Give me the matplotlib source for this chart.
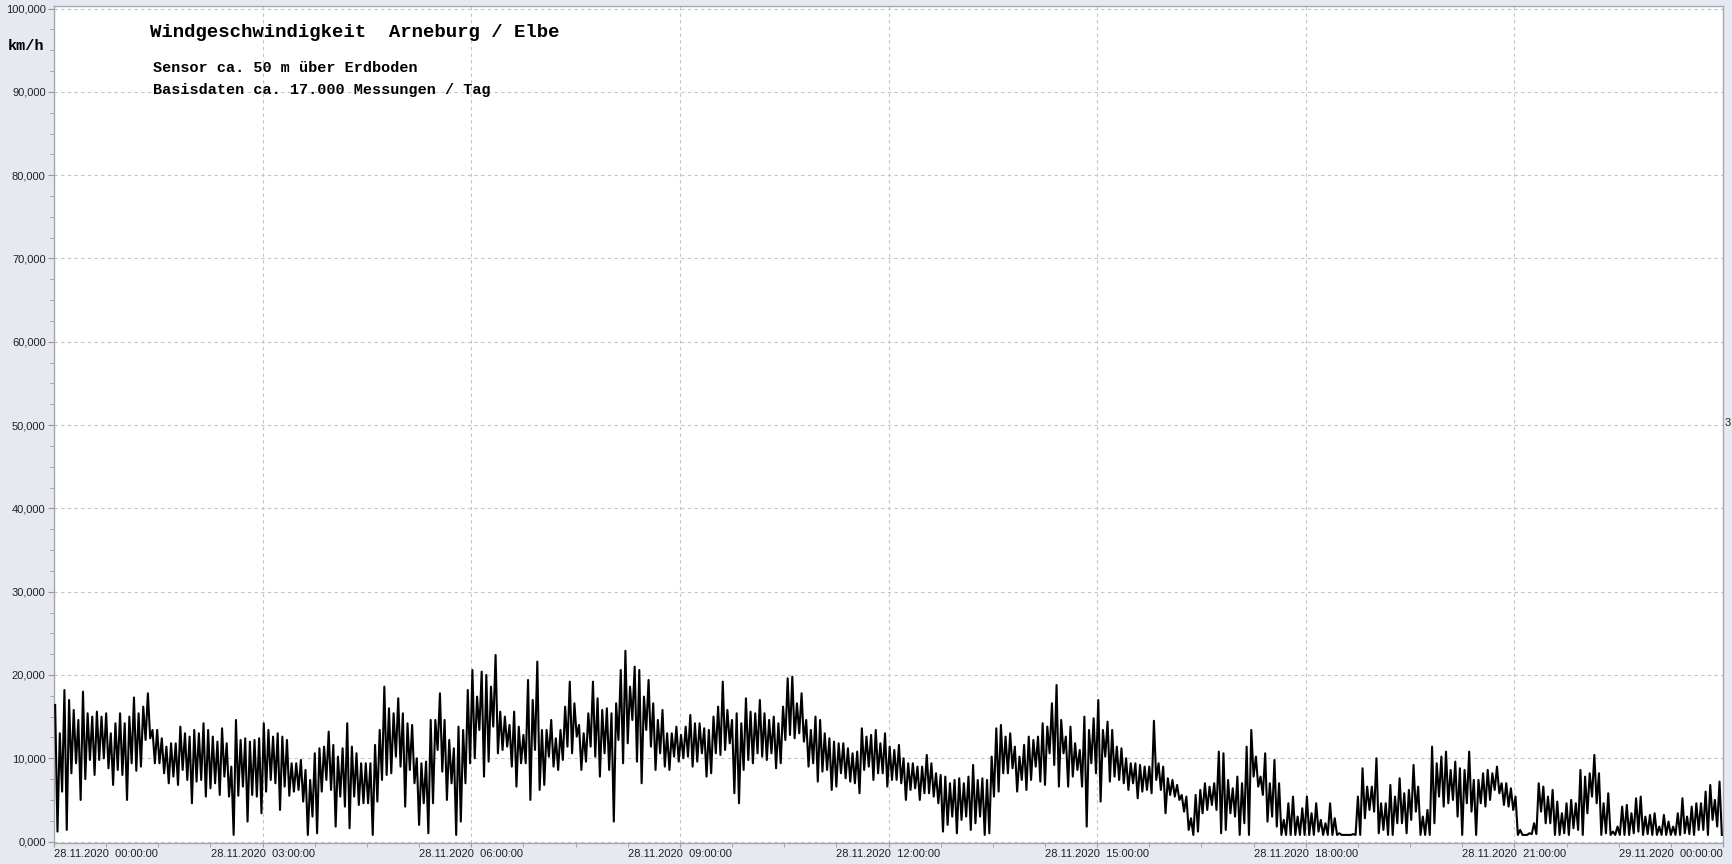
import matplotlib
matplotlib.use("Agg")
import matplotlib.pyplot as plt
import matplotlib.dates as mdates
from matplotlib.ticker import MultipleLocator, FuncFormatter
import pandas as pd

# Windgeschwindigkeit km/h, 6-Minuten-Abschnitte ab 28.11.2020 00:00
# je Abschnitt: Spitzenwert (hi) und Tiefstwert (lo)
hi = [
    16.4, 18.2, 17.0, 14.6, 18.0, 15.0, 15.6, 15.4, 13.0, 15.4,
    14.2, 17.3, 15.4, 17.8, 13.4, 12.4, 11.4, 11.8, 13.8, 12.6,
    13.4, 14.2, 13.4, 12.0, 13.6, 9.0, 14.6, 12.4, 12.0, 12.4,
    14.2, 12.6, 13.0, 12.2, 9.4, 9.8, 8.6, 10.6, 11.2, 13.2,
    11.6, 11.2, 14.2, 10.6, 9.4, 9.4, 11.6, 18.6, 16.0, 17.2,
    15.4, 14.0, 10.0, 9.6, 14.6, 17.8, 14.6, 11.2, 13.8, 18.2,
    20.6, 20.4, 20.0, 22.4, 15.6, 14.0, 15.6, 12.8, 19.4, 21.6,
    13.4, 14.6, 12.4, 16.2, 19.2, 14.0, 13.0, 19.2, 17.2, 16.0,
    15.4, 20.6, 22.9, 21.0, 20.6, 19.4, 16.6, 15.8, 13.0, 13.8,
    12.8, 15.2, 14.2, 13.6, 13.4, 16.2, 19.2, 14.6, 15.4, 17.2,
    15.6, 17.0, 15.4, 15.0, 14.2, 19.6, 19.8, 17.8, 14.6, 15.0,
    14.6, 12.4, 12.0, 11.8, 11.2, 10.8, 13.6, 12.8, 13.4, 13.0,
    11.4, 11.6, 10.0, 9.4, 9.0, 10.4, 9.4, 8.0, 7.8, 7.4,
    7.6, 7.8, 9.2, 7.6, 7.4, 13.6, 14.0, 13.0, 11.4, 11.6,
    12.6, 12.6, 14.2, 16.6, 18.8, 12.6, 13.8, 11.0, 15.0, 14.8,
    17.0, 14.4, 13.4, 11.2, 10.0, 9.4, 9.2, 9.0, 14.5, 9.0,
    7.6, 6.8, 5.6, 2.8, 5.6, 7.0, 6.6, 10.8, 10.6, 6.4,
    7.8, 11.4, 13.4, 7.8, 10.6, 9.8, 7.0, 4.6, 5.4, 4.0,
    5.4, 4.6, 2.6, 4.6, 2.8, 0.8, 0.8, 5.4, 8.8, 6.6,
    10.0, 4.6, 6.8, 7.6, 5.8, 9.2, 6.6, 3.8, 11.4, 10.2,
    10.8, 9.6, 8.8, 10.8, 7.4, 8.2, 8.6, 9.0, 7.0, 6.4,
    5.4, 0.8, 1.0, 7.0, 6.6, 6.2, 4.8, 4.6, 5.0, 8.6,
    7.8, 10.4, 8.2, 5.8, 1.2, 4.2, 4.4, 5.2, 5.4, 3.2,
    3.4, 3.2, 2.4, 3.4, 5.2, 4.2, 4.6, 6.0, 6.8, 7.2,
]
lo = [
    1.2, 1.4, 8.2, 5.0, 7.5, 8.0, 9.8, 8.8, 6.8, 8.0,
    5.0, 8.5, 9.0, 12.4, 9.4, 8.2, 7.0, 6.8, 8.6, 4.6,
    7.2, 5.4, 6.4, 5.6, 7.8, 0.8, 5.5, 2.4, 5.6, 3.4,
    6.0, 7.0, 3.8, 5.5, 6.0, 4.8, 0.8, 1.0, 6.0, 6.2,
    1.8, 4.2, 1.6, 4.4, 4.6, 0.8, 4.8, 8.0, 8.2, 9.0,
    4.2, 7.0, 2.0, 1.0, 4.6, 8.4, 5.0, 0.8, 2.4, 9.4,
    10.0, 7.8, 9.6, 10.6, 11.0, 9.0, 6.6, 9.4, 5.0, 6.2,
    6.8, 9.0, 8.6, 11.4, 10.6, 8.6, 9.6, 10.2, 7.8, 8.6,
    2.4, 9.4, 11.8, 9.6, 7.0, 11.4, 8.6, 9.0, 8.6, 9.6,
    10.0, 9.0, 9.6, 7.8, 8.2, 10.4, 11.0, 5.8, 4.6, 9.8,
    9.4, 10.2, 9.8, 8.8, 9.4, 12.8, 12.4, 12.0, 9.0, 7.2,
    8.4, 6.2, 6.6, 7.6, 7.2, 5.8, 8.6, 7.4, 8.2, 6.6,
    7.4, 7.0, 5.0, 6.4, 5.0, 5.8, 5.4, 1.2, 2.0, 1.0,
    2.6, 1.4, 2.2, 0.8, 1.0, 6.0, 8.2, 8.8, 6.0, 6.2,
    7.4, 7.2, 6.8, 9.2, 6.6, 6.6, 7.8, 6.6, 1.8, 8.2,
    4.8, 7.2, 7.8, 7.0, 6.2, 5.2, 6.0, 5.8, 7.4, 3.4,
    5.6, 5.0, 3.6, 0.8, 1.2, 3.8, 4.4, 1.0, 1.4, 3.0,
    0.8, 0.8, 7.8, 5.6, 2.4, 1.8, 0.8, 0.8, 0.8, 0.8,
    0.8, 1.2, 0.8, 0.8, 0.8, 0.8, 0.8, 0.8, 2.8, 3.6,
    1.0, 0.8, 0.8, 2.2, 1.0, 3.6, 0.8, 0.8, 2.2, 4.2,
    4.6, 3.0, 0.8, 3.6, 0.8, 4.2, 5.0, 5.8, 4.4, 3.8,
    0.8, 0.8, 0.9, 3.6, 2.2, 0.8, 0.8, 0.8, 1.6, 0.8,
    3.4, 4.6, 0.8, 0.8, 0.8, 0.8, 0.8, 1.2, 0.8, 0.8,
    0.8, 0.8, 0.8, 0.8, 1.0, 0.8, 1.4, 0.8, 2.6, 0.8,
]

# dichter Kernbereich je 12 Minuten (obere / untere Kante)
kern_oben = [
    13.0, 15.8, 15.4, 15.0, 14.2, 15.0, 16.2, 13.4, 11.8, 13.0,
    13.0, 12.6, 11.8, 12.2, 12.2, 13.4, 12.6, 9.4, 7.4, 11.4,
    10.2, 11.4, 9.4, 13.4, 15.4, 14.2, 9.4, 14.6, 12.2, 13.4,
    17.4, 18.6, 15.0, 13.8, 17.0, 13.4, 13.4, 16.6, 15.4, 15.8,
    16.6, 18.6, 17.4, 14.6, 13.0, 13.8, 14.2, 15.0, 15.8, 14.2,
    15.4, 14.6, 16.2, 16.6, 13.4, 13.0, 11.8, 10.6, 12.6, 11.8,
    11.0, 9.4, 9.0, 8.2, 7.0, 7.0, 7.4, 10.2, 12.6, 10.2,
    12.2, 13.8, 14.6, 11.8, 13.4, 13.4, 11.4, 9.4, 9.0, 9.4,
    7.4, 5.4, 6.2, 7.0, 7.4, 7.0, 10.2, 7.0, 2.6, 3.0,
    3.4, 2.2, 1.0, 0.9, 6.6, 4.6, 5.4, 6.2, 3.0, 9.4,
    8.6, 8.6, 7.4, 8.2, 7.0, 1.4, 2.2, 5.4, 3.4, 4.6,
    8.2, 4.6, 1.8, 3.4, 3.0, 1.8, 1.8, 3.0, 4.6, 5.0,
]
kern_unten = [
    6.0, 9.4, 9.8, 10.0, 8.6, 9.4, 12.2, 9.4, 7.8, 7.4,
    7.4, 7.0, 5.4, 6.6, 5.4, 7.4, 6.6, 6.2, 3.0, 7.4,
    5.4, 5.4, 4.6, 7.4, 10.2, 8.6, 4.6, 11.0, 7.0, 7.0,
    13.4, 13.8, 11.4, 9.4, 11.0, 10.2, 9.8, 12.6, 11.4, 10.6,
    12.2, 14.6, 13.4, 10.6, 10.2, 10.2, 10.6, 10.6, 11.8, 8.6,
    10.6, 10.6, 12.2, 13.0, 9.4, 8.6, 8.2, 7.0, 9.0, 8.2,
    7.4, 6.2, 5.8, 4.6, 3.0, 3.0, 3.0, 5.4, 8.2, 7.4,
    9.0, 10.6, 10.6, 8.6, 9.4, 10.2, 7.4, 7.0, 6.2, 6.2,
    5.4, 1.4, 3.4, 3.8, 3.4, 2.2, 6.6, 3.0, 0.8, 0.8,
    0.8, 0.8, 0.8, 0.8, 3.8, 1.4, 2.2, 2.6, 0.8, 5.4,
    5.0, 4.6, 4.6, 6.2, 4.2, 0.8, 0.9, 2.2, 1.0, 1.4,
    5.4, 1.0, 0.8, 1.0, 0.9, 0.8, 0.8, 0.9, 1.4, 1.8,
]

start = "2020-11-28 00:00"
end = "2020-11-29 00:00"

# je 12 Minuten: hi, lo, Kern oben, Kern unten, hi, lo -> 2-Minuten-Raster
werte = []
for j in range(len(kern_oben)):
    werte += [hi[2 * j], lo[2 * j], kern_oben[j], kern_unten[j],
              hi[2 * j + 1], lo[2 * j + 1]]
zeit = pd.date_range(pd.Timestamp(start) + pd.Timedelta(minutes=1),
                     periods=len(werte), freq="2min")

bg = "#e7e9f1"
fig = plt.figure(figsize=(17.32, 8.64), dpi=100, facecolor=bg)
ax = fig.add_axes([54 / 1732, 21 / 864, 1669 / 1732, 837.5 / 864])
ax.set_facecolor("white")

ax.plot(zeit, werte, color="black", lw=1.5, zorder=3)

ax.set_xlim(pd.Timestamp(start), pd.Timestamp(end))
ax.set_ylim(-0.17, 100.37)

# Achsen
ax.yaxis.set_major_locator(MultipleLocator(10))
ax.yaxis.set_minor_locator(MultipleLocator(2.5))
ax.yaxis.set_major_formatter(FuncFormatter(lambda v, p: f"{v:.3f}".replace(".", ",")))
ax.xaxis.set_major_locator(mdates.HourLocator(interval=3))
ax.xaxis.set_minor_locator(MultipleLocator(1 / 32))
ax.xaxis.set_major_formatter(mdates.DateFormatter("%d.%m.%Y  %H:%M:%S"))

for lab in ax.get_xticklabels() + ax.get_yticklabels():
    lab.set_fontfamily("Liberation Sans")
ax.tick_params(axis="both", which="both", colors="#9a9a9a", labelcolor="#222222",
               labelsize=8)
ax.tick_params(axis="y", which="major", length=4, pad=2)
ax.tick_params(axis="y", which="minor", length=3)
ax.tick_params(axis="x", which="both", length=3, pad=1)

ax.grid(True, which="major", color="#c4c4c4", ls=(0, (3, 3)), lw=0.8)
for s in ax.spines.values():
    s.set_color("#a4a8b4")
    s.set_linewidth(1.0)

fig.canvas.draw()
xl = ax.get_xticklabels()
xl[0].set_ha("left")
xl[-1].set_ha("right")

# Texte
ax.text(0.0577, 0.968, "Windgeschwindigkeit  Arneburg / Elbe", transform=ax.transAxes,
        family="Liberation Mono", fontweight="bold", fontsize=13.7, va="center")
ax.text(0.0596, 0.925, "Sensor ca. 50 m über Erdboden", transform=ax.transAxes,
        family="Liberation Mono", fontweight="bold", fontsize=10.9, va="center")
ax.text(0.0596, 0.899, "Basisdaten ca. 17.000 Messungen / Tag", transform=ax.transAxes,
        family="Liberation Mono", fontweight="bold", fontsize=10.9, va="center")
fig.text(8 / 1732, 1 - 46 / 864, "km/h", family="Liberation Mono", fontweight="bold",
         fontsize=11, va="center")
fig.text(1725 / 1732, 1 - 423 / 864, "3", family="Liberation Sans", fontsize=8,
         va="center", color="#222222")

fig.savefig("out.png", dpi=100, facecolor=bg)
